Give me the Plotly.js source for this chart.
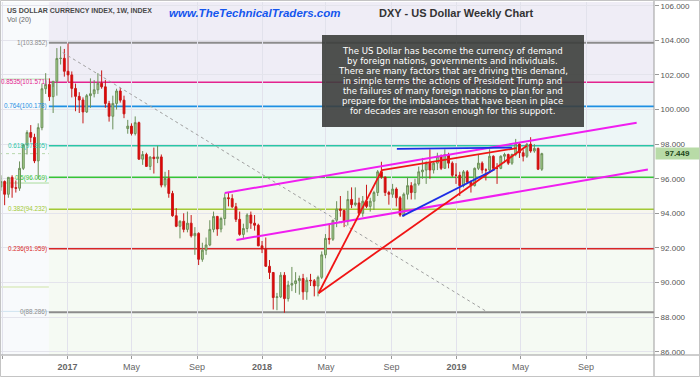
<!DOCTYPE html>
<html><head><meta charset="utf-8">
<script src="https://cdn.plot.ly/plotly-3.0.1.min.js"></script>
<style>html,body{margin:0;padding:0;background:#fff}#chart{width:700px;height:377px}</style>
</head><body><div id="chart"></div>
<script>
// ---- weekly OHLC data (week start dates) ----
const weeks = ['2016-08-29','2016-09-05','2016-09-12','2016-09-19','2016-09-26','2016-10-03','2016-10-10','2016-10-17','2016-10-24','2016-10-31','2016-11-07','2016-11-14','2016-11-21','2016-11-28','2016-12-05','2016-12-12','2016-12-19','2016-12-26',
'2017-01-02','2017-01-09','2017-01-16','2017-01-23','2017-01-30','2017-02-06','2017-02-13','2017-02-20','2017-02-27','2017-03-06','2017-03-13','2017-03-20','2017-03-27','2017-04-03','2017-04-10','2017-04-17','2017-04-24','2017-05-01','2017-05-08','2017-05-15','2017-05-22','2017-05-29','2017-06-05','2017-06-12','2017-06-19','2017-06-26','2017-07-03','2017-07-10','2017-07-17','2017-07-24','2017-07-31','2017-08-07','2017-08-14','2017-08-21','2017-08-28','2017-09-04','2017-09-11','2017-09-18','2017-09-25','2017-10-02','2017-10-09','2017-10-16','2017-10-23','2017-10-30','2017-11-06','2017-11-13','2017-11-20','2017-11-27','2017-12-04','2017-12-11','2017-12-18','2017-12-25',
'2018-01-01','2018-01-08','2018-01-15','2018-01-22','2018-01-29','2018-02-05','2018-02-12','2018-02-19','2018-02-26','2018-03-05','2018-03-12','2018-03-19','2018-03-26','2018-04-02','2018-04-09','2018-04-16','2018-04-23','2018-04-30','2018-05-07','2018-05-14','2018-05-21','2018-05-28','2018-06-04','2018-06-11','2018-06-18','2018-06-25','2018-07-02','2018-07-09','2018-07-16','2018-07-23','2018-07-30','2018-08-06','2018-08-13','2018-08-20','2018-08-27','2018-09-03','2018-09-10','2018-09-17','2018-09-24','2018-10-01','2018-10-08','2018-10-15','2018-10-22','2018-10-29','2018-11-05','2018-11-12','2018-11-19','2018-11-26','2018-12-03','2018-12-10','2018-12-17','2018-12-24','2018-12-31',
'2019-01-07','2019-01-14','2019-01-21','2019-01-28','2019-02-04','2019-02-11','2019-02-18','2019-02-25','2019-03-04','2019-03-11','2019-03-18','2019-03-25','2019-04-01','2019-04-08','2019-04-15','2019-04-22','2019-04-29','2019-05-06','2019-05-13','2019-05-20','2019-05-27','2019-06-03','2019-06-10'];
const opens = [95.53,95.84,95.10,96.08,95.48,95.45,96.60,97.96,98.67,98.39,97.03,98.95,101.20,101.45,100.74,101.63,102.95,102.96,
102.21,102.00,101.22,100.76,100.55,99.86,100.80,100.91,101.14,101.52,101.31,100.35,99.61,100.35,101.07,100.54,98.90,99.04,98.61,99.24,97.13,97.40,96.71,97.25,97.16,97.26,95.63,96.01,95.15,93.86,93.25,93.54,93.07,93.43,92.70,92.84,91.34,91.87,92.17,93.07,93.82,93.09,93.70,94.90,94.85,94.38,93.65,92.78,93.12,93.90,93.43,93.31,
92.12,91.94,90.94,90.58,89.13,89.17,90.42,89.07,89.85,89.94,90.10,90.23,89.46,90.13,90.10,89.80,90.30,91.60,92.55,92.50,93.60,94.25,94.17,93.57,94.80,94.50,94.60,94.00,94.70,94.40,94.70,95.20,96.40,96.10,95.20,95.10,95.40,94.90,93.90,95.10,95.60,95.20,95.70,96.40,96.50,96.90,96.50,96.90,97.30,96.60,97.40,96.90,96.20,
96.20,95.60,96.40,95.80,95.60,96.60,96.90,96.50,96.50,97.30,96.60,96.60,97.30,97.40,96.90,97.40,98.00,97.50,97.30,98.00,97.60,97.75,96.55];
const highs = [96.20,95.90,96.10,96.20,95.90,97.00,98.00,98.80,99.10,98.60,99.20,101.50,102.10,101.80,101.30,103.55,103.65,103.50,
103.82,102.20,101.50,101.00,100.70,100.90,101.80,101.70,102.10,102.26,101.70,100.50,100.80,101.20,101.25,100.80,99.40,99.20,99.60,99.30,97.60,97.50,97.30,97.80,97.90,97.40,96.40,96.50,95.30,94.30,93.60,94.00,94.10,93.90,93.20,92.90,92.30,92.60,93.60,94.10,93.85,93.80,95.15,95.20,95.10,94.60,94.10,93.40,94.00,94.10,93.90,93.40,
92.40,92.60,91.30,90.60,89.40,90.60,90.60,90.10,90.90,90.60,90.40,90.50,90.30,90.50,90.20,90.40,91.80,92.80,93.40,93.60,94.70,95.00,94.20,95.30,95.50,95.50,94.90,95.00,95.65,94.90,95.30,96.50,96.98,96.10,95.30,95.70,95.50,95.00,95.20,96.10,95.80,96.00,96.70,97.20,97.00,97.70,97.00,97.50,97.40,97.70,97.50,97.00,96.90,
96.40,96.50,96.50,95.90,96.65,97.40,97.00,96.60,97.70,97.35,96.90,97.35,97.50,97.45,97.45,98.30,98.05,97.70,98.05,98.40,98.00,97.80,97.50];
const lows = [95.30,94.47,94.90,94.90,95.20,95.30,96.50,97.40,98.10,96.90,96.00,98.80,100.90,100.50,99.80,100.80,102.60,101.90,
101.60,100.70,99.90,99.80,99.20,99.80,100.10,100.70,100.90,101.20,100.10,99.30,98.85,100.00,100.40,99.50,98.60,98.50,98.50,97.10,96.80,96.70,96.50,96.30,96.90,95.50,95.50,94.90,93.80,93.20,92.55,92.90,92.90,92.60,91.60,91.01,91.20,91.60,92.10,92.90,92.70,92.90,93.30,94.40,94.30,93.50,92.70,92.50,92.90,93.10,93.00,92.10,
91.70,90.90,90.20,88.44,88.40,89.10,88.25,88.90,89.50,89.40,89.30,89.00,89.00,89.80,89.20,89.20,90.20,91.40,92.20,92.40,93.20,93.80,93.20,93.30,94.30,94.40,93.90,93.80,94.30,94.10,94.20,95.00,96.00,95.00,94.50,94.90,94.40,93.80,93.80,94.80,94.80,94.80,95.60,96.00,95.70,96.00,96.30,96.50,96.50,96.60,96.60,96.10,95.70,
95.00,95.50,95.70,95.20,95.55,96.50,96.30,95.90,96.40,96.50,95.70,96.55,96.90,96.80,96.80,97.30,97.20,97.00,97.20,97.50,97.50,96.50,96.45];
const closes = [95.84,95.10,96.08,95.48,95.45,96.60,97.96,98.67,98.39,97.03,98.95,101.20,101.45,100.74,101.63,102.95,102.96,102.21,
102.00,101.22,100.76,100.55,99.86,100.80,100.91,101.14,101.52,101.31,100.35,99.61,100.35,101.07,100.54,99.75,99.04,98.61,99.24,97.13,97.40,96.71,97.25,97.16,97.26,95.63,96.01,95.15,93.86,93.25,93.54,93.07,93.43,92.70,92.84,91.34,91.87,92.17,93.07,93.82,93.09,93.70,94.90,94.85,94.38,93.65,92.78,93.12,93.90,93.43,93.31,92.12,
91.94,90.94,90.58,89.13,89.17,90.42,89.07,89.85,89.94,90.10,90.23,89.46,90.13,90.10,89.80,90.30,91.60,92.55,92.50,93.60,94.25,94.17,93.57,94.80,94.50,94.60,94.00,94.70,94.40,94.70,95.20,96.40,96.10,95.20,95.10,95.40,94.90,93.90,95.10,95.60,95.20,95.70,96.40,96.50,96.90,96.50,96.90,97.30,96.60,97.40,96.90,96.20,96.20,
95.60,96.40,95.80,95.60,96.60,96.90,96.50,96.50,97.30,96.60,96.60,97.30,97.40,96.90,97.40,98.00,97.50,97.30,98.00,97.60,97.75,96.55,97.449];

// ---- Fibonacci retracement ----
const fibHigh = 103.852, fibLow = 88.286;
const fibRatios = [1, 0.8535, 0.764, 0.618, 0.5, 0.382, 0.236, 0];
const fibColors = ['#8c8c8c','#e3238e','#1e8fe3','#2ac5a6','#36c436','#a2c935','#d82626','#8c8c8c'];
const bandColors = ['#efedf6','#edf4f8','#edf6f7','#eef7f2','#f0f7ee','#f7f6ee','#f5faf3'];
const fibStart = '2016-11-27';

// ---- axes ----
const xTickVals = ['2016-09-01','2017-01-01','2017-05-01','2017-09-01','2018-01-01','2018-05-01','2018-09-01','2019-01-01','2019-05-01','2019-09-01'];
const xTickText = ['Sep','<b>2017</b>','May','Sep','<b>2018</b>','May','Sep','<b>2019</b>','May','Sep'];
const yTickVals = [86,88,90,92,94,96,98,100,102,104,106];
const yTickText = yTickVals.map(v => v.toFixed(3));
const lastPrice = 97.449;

// ---- drawn lines (date, price) ----
const dashedLine = [['2016-12-23',103.29],['2019-02-27',88.31]];
const channelUpper = [['2017-10-23',95.18],['2019-12-05',99.24]];
const channelLower = [['2017-11-14',92.46],['2019-12-26',96.53]];
const redLines = [
  [['2018-04-17',89.38],['2018-08-14',96.50]],
  [['2018-08-14',96.50],['2019-04-24',97.77]],
  [['2018-04-17',89.38],['2019-05-13',97.90]]
];
const blueLines = [
  [['2018-09-11',97.72],['2019-04-15',97.80]],
  [['2018-09-21',93.84],['2019-03-14',96.55]]
];
const thinLines = [[101.76,'#b9dfb2'],[95.75,'#a9db9c'],[89.74,'#cfe4a6'],[88.33,'#cfe3f0']];

const boxLines = [
 'The US Dollar has become the currency of demand',
 'by foreign nations, governments and individuals.',
 'There are many factors that are driving this demand,',
 'in simple terms the actions of President Trump and',
 'the failures of many foreign nations to plan for and',
 'prepare for the imbalances that have been in place',
 'for decades are reason enough for this support.'
];

// pixel helpers for layout placement
const PW = 654, PT = 2, PB = 355;
const pxX = x => x / PW;
const pxY = y => (PB - y) / (PB - PT);

const xRange = ['2016-08-27 07:00', '2020-01-06 12:00'];
const yRange = [85.81, 106.214];

const shapes = [];
const levels = fibRatios.map(r => fibLow + r * (fibHigh - fibLow));
const trunc3 = v => (Math.floor(v * 1000 + 1e-6) / 1000).toFixed(3);
// bands
shapes.push({type:'rect', xref:'x', yref:'y', x0:fibStart, x1:'2020-02-01', y0:levels[0], y1:107, fillcolor:bandColors[0], line:{width:0}, layer:'below'});
for (let i = 0; i < levels.length - 1; i++) {
  shapes.push({type:'rect', xref:'x', yref:'y', x0:fibStart, x1:'2020-02-01', y0:levels[i+1], y1:levels[i], fillcolor:bandColors[i], line:{width:0}, layer:'below'});
}
shapes.push({type:'rect', xref:'x', yref:'y', x0:fibStart, x1:'2020-02-01', y0:85, y1:levels[levels.length-1], fillcolor:bandColors[6], line:{width:0}, layer:'below'});
// thin full-width lines
thinLines.forEach(([v,c]) => shapes.push({type:'line', xref:'paper', yref:'y', x0:0, x1:1, y0:v, y1:v, line:{color:c, width:1}, layer:'below'}));
// fib lines
levels.forEach((v,i) => shapes.push({type:'line', xref:'x', yref:'y', x0:fibStart, x1:'2020-02-01', y0:v, y1:v, line:{color:fibColors[i], width:(i===0||i===7||i===4)?2:1.6}, layer:'below'}));
// last price dotted line
shapes.push({type:'line', xref:'paper', yref:'y', x0:0, x1:1, y0:lastPrice, y1:lastPrice, line:{color:'#b9d7ad', width:1, dash:'dot'}, layer:'below'});
const seg = (p, color, width, dash) => ({type:'line', xref:'x', yref:'y', x0:p[0][0], y0:p[0][1], x1:p[1][0], y1:p[1][1], line:{color, width, dash:dash||'solid'}, layer:'above'});
shapes.push(seg(dashedLine, '#a0a0a0', 1, '3px,3px'));
shapes.push(seg(channelUpper, '#f01ef0', 2));
shapes.push(seg(channelLower, '#f01ef0', 2));
redLines.forEach(l => shapes.push(seg(l, '#f01414', 1.8)));
blueLines.forEach(l => shapes.push(seg(l, '#1c2ee6', 1.8)));
// text box
shapes.push({type:'rect', xref:'paper', yref:'paper', x0:pxX(322), x1:pxX(584), y0:pxY(127), y1:pxY(35), fillcolor:'rgba(60,62,60,0.9)', line:{width:0}, layer:'above'});
// frame
shapes.push({type:'line', xref:'paper', yref:'paper', x0:1, x1:1, y0:pxY(377), y1:pxY(0), line:{color:'#9c9c9c', width:1}});
shapes.push({type:'line', xref:'paper', yref:'paper', x0:0, x1:pxX(700), y0:0, y1:0, line:{color:'#9c9c9c', width:1}});
shapes.push({type:'rect', xref:'paper', yref:'paper', x0:pxX(0.5), x1:pxX(699.5), y0:pxY(376.5), y1:pxY(0.5), line:{color:'#c4c4c4', width:1}, fillcolor:'rgba(0,0,0,0)'});

const annotations = [];
levels.forEach((v,i) => annotations.push({xref:'x', yref:'y', x:fibStart, y:v, xanchor:'right', yanchor:'middle', xshift:-1, showarrow:false, borderpad:0,
  text: fibRatios[i] + '(' + trunc3(v) + ')', font:{size:6.3, color:fibColors[i], family:'Liberation Sans, Arial, sans-serif'}}));
boxLines.forEach((t,i) => annotations.push({xref:'paper', yref:'paper', x:pxX(453), y:pxY(51 + 10*i), xanchor:'center', yanchor:'middle', showarrow:false, borderpad:0,
  text:t, font:{size:8.6, color:'#ffffff', family:'DejaVu Sans, Verdana, sans-serif'}}));
annotations.push({xref:'paper', yref:'paper', x:pxX(5), y:pxY(11), xanchor:'left', yanchor:'middle', showarrow:false,
  text:'<b>US DOLLAR CURRENCY INDEX, 1W, INDEX</b>', font:{size:7, color:'#4a4a4a'}});
annotations.push({xref:'paper', yref:'paper', x:pxX(5), y:pxY(20.5), xanchor:'left', yanchor:'middle', showarrow:false,
  text:'Vol (20)', font:{size:7, color:'#666'}});
annotations.push({xref:'paper', yref:'paper', x:pxX(167), y:pxY(13), xanchor:'left', yanchor:'middle', showarrow:false,
  text:'<b><i>www.TheTechnicalTraders.com</i></b>', font:{size:11.5, color:'#1556ee'}});
annotations.push({xref:'paper', yref:'paper', x:pxX(456), y:pxY(13.5), xanchor:'center', yanchor:'middle', showarrow:false,
  text:'<b>DXY - US Dollar Weekly Chart</b>', font:{size:11, color:'#333'}});
annotations.push({xref:'paper', yref:'y', x:1, y:lastPrice, xanchor:'left', yanchor:'middle', xshift:1, showarrow:false,
  text:'<b>97.449</b>', bgcolor:'#b8dba7', font:{size:8, color:'#24461a'}, width:43, height:11, borderpad:0});

const trace = {type:'candlestick', x:weeks, open:opens, high:highs, low:lows, close:closes,
  increasing:{line:{color:'#6b8f59', width:1}, fillcolor:'#a9d38e'},
  decreasing:{line:{color:'#c81818', width:1}, fillcolor:'#e80000'},
  whiskerwidth:0, hoverinfo:'skip', showlegend:false};

const layout = {
  width:700, height:377, margin:{l:0, r:46, t:2, b:22},
  paper_bgcolor:'#ffffff', plot_bgcolor:'#f8fafc', showlegend:false,
  font:{family:'Liberation Sans, Arial, sans-serif', size:8, color:'#555'},
  xaxis:{type:'date', range:xRange, tickmode:'array', tickvals:xTickVals, ticktext:xTickText, tickangle:0,
    showgrid:true, gridcolor:'#e2e2ec', gridwidth:1, ticks:'outside', ticklen:3, tickcolor:'#999',
    tickfont:{size:9, color:'#666'}, showline:false, zeroline:false, rangeslider:{visible:false}, fixedrange:true},
  yaxis:{side:'right', range:yRange, tickmode:'array', tickvals:yTickVals, ticktext:yTickText, ticks:'outside', ticklen:4,
    tickcolor:'#999', tickfont:{size:8, color:'#555'}, showgrid:true, gridcolor:'#e4e4ec', zeroline:false, showline:false, fixedrange:true},
  shapes, annotations
};
Plotly.newPlot('chart', [trace], layout, {displayModeBar:false, staticPlot:true});
</script></body></html>
